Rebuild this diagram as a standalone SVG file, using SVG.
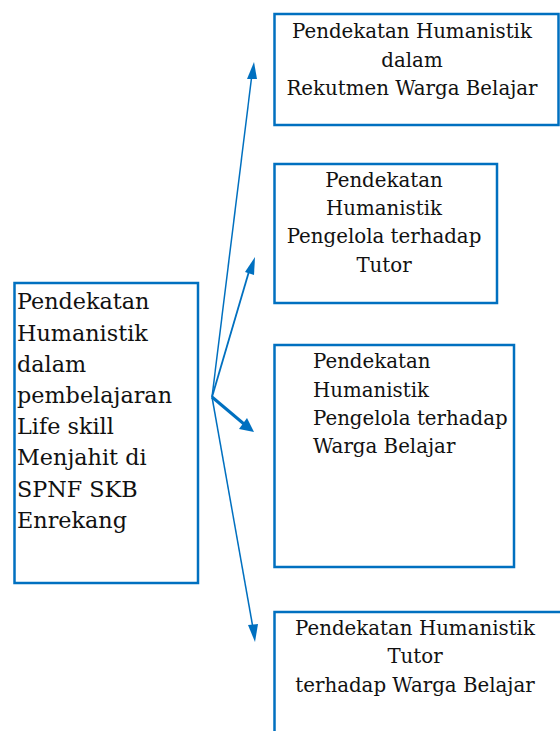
<svg xmlns="http://www.w3.org/2000/svg" width="560" height="731" viewBox="0 0 560 731">
<style>
.box{fill:#fff;stroke:#0070C0;stroke-width:2.5}
.t{font-family:"DejaVu Serif","Liberation Serif",serif;font-size:19.8px;fill:#111}
.tl{font-family:"DejaVu Serif","Liberation Serif",serif;font-size:22.3px;fill:#111}
.c{text-anchor:middle}
.ln{stroke:#0070C0;fill:none}
.ah{fill:#0070C0}
</style>
<rect width="560" height="731" fill="#fff"/>
<g id="connectors">
<line class="ln" x1="212" y1="397" x2="252" y2="74" stroke-width="1.5"/>
<polygon class="ah" points="254,62 247,79 257,79"/>
<line class="ln" x1="212" y1="397" x2="250" y2="268" stroke-width="1.8"/>
<polygon class="ah" points="255,257 245,272 254,275"/>
<line class="ln" x1="212" y1="397" x2="244" y2="424" stroke-width="3"/>
<polygon class="ah" points="254,432 239,429 247,418"/>
<line class="ln" x1="212" y1="397" x2="253" y2="628" stroke-width="1.5"/>
<polygon class="ah" points="255,642 248,625 258,624"/>
</g>
<g id="n1">
<rect class="box" x="274.5" y="14" width="284" height="111"/>
<text class="t c" x="412" y="38">Pendekatan Humanistik</text>
<text class="t c" x="412" y="67">dalam</text>
<text class="t c" x="412" y="95">Rekutmen Warga Belajar</text>
</g>
<g id="n2">
<rect class="box" x="274.5" y="164" width="222.5" height="139"/>
<text class="t c" x="384" y="187">Pendekatan</text>
<text class="t c" x="384" y="215">Humanistik</text>
<text class="t c" x="384" y="243">Pengelola terhadap</text>
<text class="t c" x="384" y="272">Tutor</text>
</g>
<g id="n3">
<rect class="box" x="274.5" y="345" width="239.5" height="222"/>
<text class="t" x="313" y="368">Pendekatan</text>
<text class="t" x="313" y="397">Humanistik</text>
<text class="t" x="313" y="425">Pengelola terhadap</text>
<text class="t" x="313" y="453">Warga Belajar</text>
</g>
<g id="n4">
<rect class="box" x="274.5" y="612" width="320" height="160"/>
<text class="t c" x="415" y="635">Pendekatan Humanistik</text>
<text class="t c" x="415" y="663">Tutor</text>
<text class="t c" x="415" y="692">terhadap Warga Belajar</text>
</g>
<g id="root">
<rect class="box" x="14.5" y="283" width="183.5" height="300"/>
<text class="tl" x="17" y="309">Pendekatan</text>
<text class="tl" x="17" y="341">Humanistik</text>
<text class="tl" x="17" y="372">dalam</text>
<text class="tl" x="17" y="403">pembelajaran</text>
<text class="tl" x="17" y="434">Life skill</text>
<text class="tl" x="17" y="465">Menjahit di</text>
<text class="tl" x="17" y="497">SPNF SKB</text>
<text class="tl" x="17" y="528">Enrekang</text>
</g>
</svg>
